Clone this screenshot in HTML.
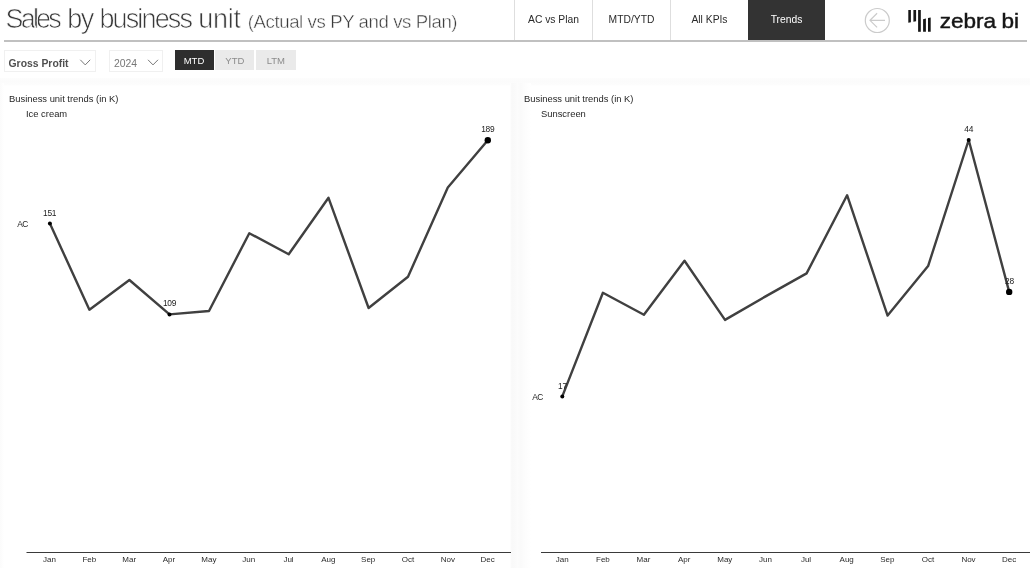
<!DOCTYPE html>
<html><head><meta charset="utf-8">
<style>
*{box-sizing:border-box;margin:0;padding:0}
html,body{width:1030px;height:568px;overflow:hidden;background:#fff;font-family:"Liberation Sans","DejaVu Sans",sans-serif;color:#333}
.abs{position:absolute}
#title{left:5.5px;top:0.9px;font-size:27px;line-height:36px;color:#3a3a3a;white-space:nowrap;letter-spacing:-1.1px;-webkit-text-stroke:0.7px #fff}
#title b{font-weight:normal}
#title span{font-size:18.6px;color:#3a3a3a;-webkit-text-stroke:0.45px #fff;letter-spacing:-0.4px;margin-left:0.5px}
#hline{left:4px;top:40px;width:1023px;height:2px;background:#c0c0c0}
.tab{top:0;height:40px;width:78px;border-right:1px solid #dedede;font-size:10.3px;line-height:40px;text-align:center;color:#2a2a2a;background:#fff}
.tab.sel{background:#333;color:#fff;border:none}
.dd{top:50px;height:22px;border:1px solid #f0f0f0;background:#fff;font-size:10.4px;line-height:25px;padding-left:3.5px;color:#777}
.btn{top:50px;height:20.3px;width:39px;background:#eaeaea;color:#8c8c8c;font-size:9.5px;line-height:21.3px;text-align:center}
.btn.sel{background:#2e2e2e;color:#fff}
.panel{top:83px;height:485px;background:#fff}
svg{fill:#333}
svg text{font-family:"Liberation Sans","DejaVu Sans",sans-serif}
</style></head><body>
<div class="abs" id="title"><b style="letter-spacing:-2.8px">Sales</b> <b style="letter-spacing:-1.4px;margin-left:1.8px">by</b> <b style="letter-spacing:-1.85px;margin-left:0px">business</b> <b style="letter-spacing:-0.2px;margin-left:0.6px">unit</b> <span>(Actual vs PY and vs Plan)</span></div>
<div class="abs tab" style="left:514px;border-left:1px solid #dedede;width:79px">AC vs Plan</div>
<div class="abs tab" style="left:593px">MTD/YTD</div>
<div class="abs tab" style="left:671px">All KPIs</div>
<div class="abs tab sel" style="left:748px;width:77px">Trends</div>
<div class="abs" id="hline"></div>

<svg class="abs" style="left:860px;top:0" width="170" height="40" viewBox="860 0 170 40">
  <circle cx="877.3" cy="20.5" r="12" fill="none" stroke="#cbcbcb" stroke-width="1.2"/>
  <path d="M885 20.3 H870 M877.1 13.3 L870 20.3 L877.1 27.4" fill="none" stroke="#cbcbcb" stroke-width="1.2"/>
  <g fill="#161616">
    <polygon points="908.3,10 910.9,10 910.9,22.2 908.3,22.8"/>
    <polygon points="913.4,10 916.1,10 916.1,21.2 913.4,21.8"/>
    <rect x="918.1" y="10" width="2.7" height="21.8"/>
    <polygon points="923.1,19.2 925.9,18.6 925.9,31.8 923.1,31.8"/>
    <polygon points="928,18.1 930.7,17.5 930.7,31.8 928,31.8"/>
  </g>
  <text transform="translate(939.8,28) scale(1.1,1)" font-size="20.5" style="fill:#161616;letter-spacing:-0.05px;word-spacing:-0.6px;stroke:#161616;stroke-width:0.45px">zebra bi</text>
</svg>

<div class="abs dd" style="left:4px;width:92px;color:#505050;font-weight:bold">Gross Profit</div>
<div class="abs dd" style="left:109px;width:54px;padding-left:4px">2024</div>
<svg class="abs" style="left:78px;top:57px" width="14" height="10"><path d="M2.3 2.8 L7.25 7.9 L12.2 2.8" fill="none" stroke="#777" stroke-width="1"/></svg>
<svg class="abs" style="left:146px;top:57px" width="14" height="10"><path d="M2 2.8 L7 7.9 L12 2.8" fill="none" stroke="#777" stroke-width="1"/></svg>
<div class="abs btn sel" style="left:174.5px">MTD</div>
<div class="abs btn" style="left:215.3px">YTD</div>
<div class="abs btn" style="left:256.2px;width:39.4px">LTM</div>

<div class="abs" style="left:0;top:78px;width:1030px;height:8px;background:linear-gradient(#fdfdfd,#fbfbfb 50%,#fcfcfc 80%,#fff)"></div>
<div class="abs" style="left:0;top:83px;width:4px;height:485px;background:linear-gradient(90deg,#fbfbfb,#fff)"></div>
<div class="abs" style="left:510px;top:83px;width:21px;height:485px;background:linear-gradient(90deg,#fff,#f9f9f9 8%,#fafafa 25%,#fcfcfc 35%,#fafafa 52%,#fcfcfc 65%,#fff)"></div>

<svg class="abs" style="left:0;top:0" width="1030" height="568" viewBox="0 0 1030 568">
  <g font-size="9.4" style="fill:#262626">
    <text x="9" y="102">Business unit trends (in K)</text>
    <text x="26" y="117">Ice cream</text>
    <text x="524" y="102">Business unit trends (in K)</text>
    <text x="541" y="117">Sunscreen</text>
  </g>
  <polyline fill="none" stroke="#404040" stroke-width="2.4" stroke-linejoin="round" points="49.9,223.5 89.4,309.7 129.4,280 169.5,314.4 209,311 249.3,233.2 288.7,254.3 328.5,197.8 368.6,308 408,276.7 447.8,187.5 487.8,140.2"/>
  <circle cx="49.9" cy="223.5" r="2" fill="#000"/>
  <circle cx="169.5" cy="314.4" r="2" fill="#000"/>
  <circle cx="487.8" cy="140.2" r="3.2" fill="#000"/>
  <polyline fill="none" stroke="#404040" stroke-width="2.4" stroke-linejoin="round" points="562.3,396.4 602.9,292.8 643.9,314.7 684.5,260.7 725,319.9 765.6,296.4 806.6,273.4 847.1,195.2 887.6,315.6 928.1,266.1 968.7,140 1009.2,291.9"/>
  <circle cx="562.3" cy="396.4" r="2" fill="#000"/>
  <circle cx="968.7" cy="140" r="2" fill="#000"/>
  <circle cx="1009.2" cy="291.9" r="3.2" fill="#000"/>
  <g font-size="8.4" text-anchor="middle" style="fill:#222;letter-spacing:-0.25px">
    <text x="49.6" y="215.9">151</text>
    <text x="169.5" y="305.7">109</text>
    <text x="487.8" y="132">189</text>
    <text x="22.6" y="226.7" font-size="8.4" letter-spacing="-0.5">AC</text>
    <text x="562.5" y="389">17</text>
    <text x="968.7" y="132">44</text>
    <text x="1009.5" y="284">28</text>
    <text x="537.6" y="399.7" font-size="8.4" letter-spacing="-0.5">AC</text>
  </g>
  <rect x="26.5" y="552" width="484.5" height="1" fill="#3a3a3a"/>
  <rect x="541" y="552" width="489" height="1" fill="#3a3a3a"/>
  <g font-size="8" text-anchor="middle" style="fill:#2a2a2a">
    <text x="49.5" y="562">Jan</text><text x="89.3" y="562">Feb</text><text x="129.2" y="562">Mar</text><text x="169" y="562">Apr</text><text x="208.9" y="562">May</text><text x="248.7" y="562">Jun</text><text x="288.5" y="562">Jul</text><text x="328.4" y="562">Aug</text><text x="368.2" y="562">Sep</text><text x="408" y="562">Oct</text><text x="447.9" y="562">Nov</text><text x="487.7" y="562">Dec</text>
    <text x="562.3" y="562">Jan</text><text x="602.9" y="562">Feb</text><text x="643.5" y="562">Mar</text><text x="684.2" y="562">Apr</text><text x="724.8" y="562">May</text><text x="765.4" y="562">Jun</text><text x="806" y="562">Jul</text><text x="846.7" y="562">Aug</text><text x="887.3" y="562">Sep</text><text x="927.9" y="562">Oct</text><text x="968.5" y="562">Nov</text><text x="1009.2" y="562">Dec</text>
  </g>
</svg>
</body></html>
